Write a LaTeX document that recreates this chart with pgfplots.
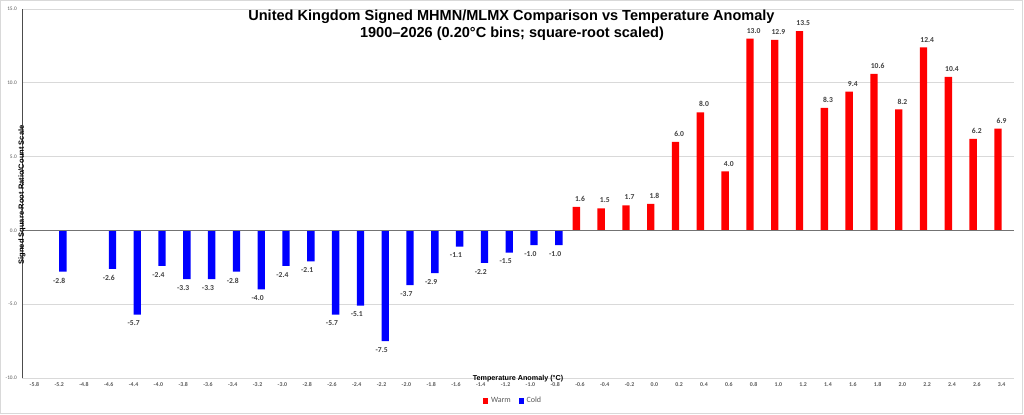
\documentclass[border=0pt]{standalone}
\usepackage{fontspec}
\setmainfont{Carlito}
\newfontfamily\arialfont{Liberation Sans}
\usepackage{pgfplots}
\pgfplotsset{compat=1.18}
\definecolor{gridgray}{HTML}{D9D9D9}
\definecolor{ticktext}{HTML}{595959}
\definecolor{labeltext}{HTML}{404040}
\definecolor{barred}{HTML}{FF0000}
\definecolor{barblue}{HTML}{0000FF}
\begin{document}
\begin{tikzpicture}
\fill[white] (0,0) rectangle (768pt,310.5pt);
\draw[gridgray, line width=0.75pt] (0.4pt,0.75pt) rectangle (766.5pt,309.75pt);
\begin{axis}[
  at={(16.5pt,27pt)}, anchor=south west,
  width=744pt, height=276.75pt, scale only axis,
  xmin=-0.5, xmax=39.5, ymin=-10, ymax=15,
  ytick={-10,-5,0,5,10,15},
  xtick={0,...,39},
  xticklabels={-5.8,-5.2,-4.8,-4.6,-4.4,-4.0,-3.8,-3.6,-3.4,-3.2,-3.0,-2.8,-2.6,-2.4,-2.2,-2.0,-1.8,-1.6,-1.4,-1.2,-1.0,-0.8,-0.6,-0.4,-0.2,0.0,0.2,0.4,0.6,0.8,1.0,1.2,1.4,1.6,1.8,2.0,2.2,2.4,2.6,3.4},
  major tick length=0pt,
  axis lines*=left,
  x axis line style={draw=none},
  y axis line style={draw=black!70, line width=0.75pt},
  ymajorgrids, grid style={gridgray, line width=0.6pt},
  xticklabel style={font=\fontsize{4.4}{5}\selectfont\bfseries, text=ticktext, anchor=base, inner sep=0pt, yshift=-6.6pt},
  yticklabel style={font=\fontsize{4}{5}\selectfont, text=ticktext, anchor=east, inner sep=0pt, xshift=-3.75pt,
    /pgf/number format/.cd, fixed, fixed zerofill, precision=1, assume math mode=true},
  xlabel={Temperature Anomaly (°C)},
  xlabel style={font=\arialfont\fontsize{5.4}{6}\selectfont\bfseries, at={(axis description cs:0.5,0)}, anchor=center, yshift=-0.75pt, inner sep=0pt},
  ylabel={Signed Square-Root Ratio/Count Scale},
  ylabel style={font=\arialfont\fontsize{5.65}{6}\selectfont\bfseries, at={(axis description cs:0,0.515)}, anchor=center, xshift=-5.25pt, inner sep=0pt},
  legend style={at={(axis description cs:0.4955,0)}, anchor=center, yshift=-17.25pt, draw=none, fill=none,
    legend columns=2, font=\fontsize{6}{7}\selectfont, text=ticktext,
    /tikz/every even column/.append style={column sep=4pt}},
  legend image code/.code={\fill[#1] (0pt,-1.9pt) rectangle (3.8pt,1.9pt);},
  clip=false,
]
\addplot[ybar, bar width=5.5pt, bar shift=-2.74pt, fill=barred, draw=none,
  nodes near coords={\pgfmathprintnumber[fixed,fixed zerofill,precision=1,assume math mode=true]{\pgfplotspointmeta}},
  every node near coord/.append style={font=\fontsize{5.7}{6}\selectfont\bfseries, text=labeltext, anchor=south, inner sep=0pt, yshift=3.75pt}]
coordinates {(22,1.6) (23,1.5) (24,1.7) (25,1.8) (26,6.0) (27,8.0) (28,4.0) (29,13.0) (30,12.9) (31,13.5) (32,8.3) (33,9.4) (34,10.6) (35,8.2) (36,12.4) (37,10.4) (38,6.2) (39,6.9)};
\addlegendentry{Warm}
\addplot[ybar, bar width=5.5pt, bar shift=2.74pt, fill=barblue, draw=none,
  nodes near coords={\pgfmathprintnumber[fixed,fixed zerofill,precision=1,assume math mode=true]{\pgfplotspointmeta}},
  every node near coord/.append style={font=\fontsize{5.7}{6}\selectfont\bfseries, text=labeltext, anchor=north, inner sep=0pt, yshift=-4.5pt}]
coordinates {(1,-2.8) (3,-2.6) (4,-5.7) (5,-2.4) (6,-3.3) (7,-3.3) (8,-2.8) (9,-4.0) (10,-2.4) (11,-2.1) (12,-5.7) (13,-5.1) (14,-7.5) (15,-3.7) (16,-2.9) (17,-1.1) (18,-2.2) (19,-1.5) (20,-1.0) (21,-1.0)};
\addlegendentry{Cold}
\draw[black!55, line width=0.8pt] (axis cs:-0.5,0) -- (axis cs:39.5,0);
\end{axis}
\node[font=\arialfont\fontsize{10.9}{13}\selectfont\bfseries, anchor=base, inner sep=0pt] at (383.6pt,294.97pt) {United Kingdom Signed MHMN/MLMX Comparison vs Temperature Anomaly};
\node[font=\arialfont\fontsize{10.9}{13}\selectfont\bfseries, anchor=base, inner sep=0pt] at (384pt,282.4pt) {1900–2026 (0.20°C bins; square-root scaled)};
\pgfresetboundingbox
\useasboundingbox (0,0) rectangle (768pt,310.5pt);
\end{tikzpicture}
\end{document}
